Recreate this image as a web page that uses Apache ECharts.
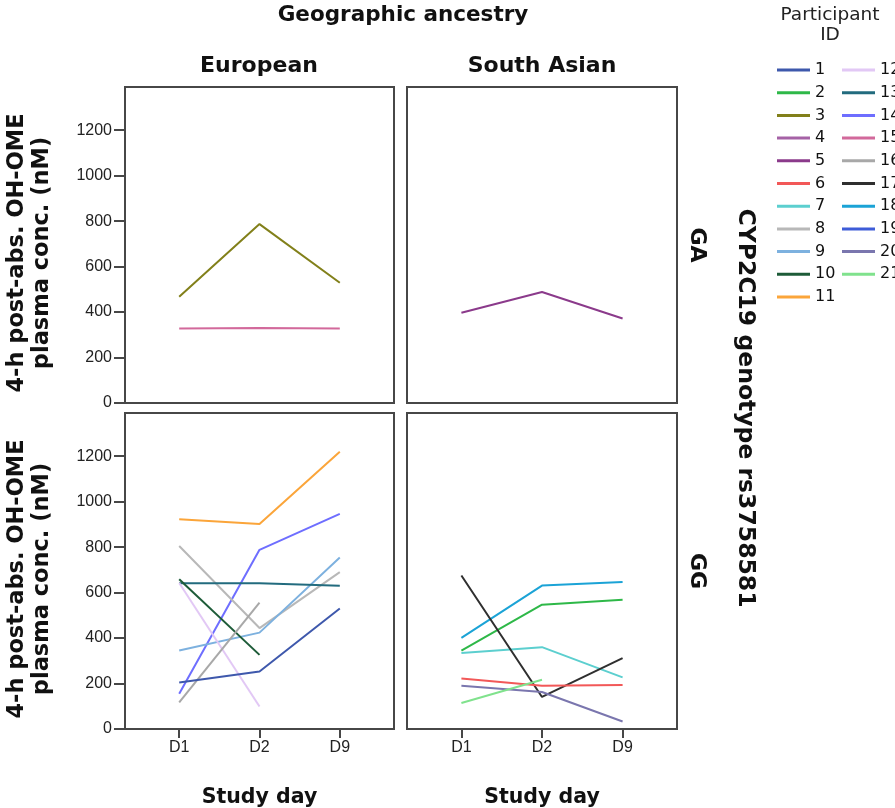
<!DOCTYPE html>
<html>
<head>
<meta charset="utf-8">
<script src="https://cdn.jsdelivr.net/npm/echarts@6/dist/echarts.min.js"></script>
<style>html,body{margin:0;padding:0;background:#fff}#c{width:895px;height:808px}</style>
</head>
<body>
<div id="c"></div>
<script>
// ---- data ----
const days = ['D1', 'D2', 'D9'];
const participantIds = ['1','2','3','4','5','6','7','8','9','10','11','12','13','14','15','16','17','18','19','20','21'];
const participantColors = ['#3E58AC','#2EB848','#82801A','#A562A6','#8B3A8B','#F25858','#5CCFCF','#B8B8B8','#7DB1DF','#1D5B38','#FBA53A','#E2C8F5','#226B7E','#6E6EFF','#D2699B','#A8A8A8','#2F2F2F','#1BA3D6','#3E5CD8','#7A76AE','#80E28D'];
const yTicks = [0, 200, 400, 600, 800, 1000, 1200];
const ancestries = ['European', 'South Asian'];
const genotypes = ['GA', 'GG'];

// European / GA
const euGA_ids = ['3', '15'];
const euGA_vals = [[467, 787, 529], [328, 330, 328]];
// South Asian / GA
const saGA_ids = ['5'];
const saGA_vals = [[397, 488, 372]];
// European / GG
const euGG_ids = ['11', '14', '8', '9', '13', '10', '12', '16', '1'];
const euGG_vals = [
  [923, 902, 1220],
  [155, 788, 946],
  [805, 444, 690],
  [345, 424, 754],
  [641, 641, 630],
  [659, 326, null],
  [642, 99, null],
  [117, 556, null],
  [205, 253, 530]
];
// South Asian / GG
const saGG_ids = ['18', '2', '7', '17', '6', '20', '21'];
const saGG_vals = [
  [401, 631, 647],
  [345, 547, 569],
  [334, 360, 227],
  [675, 141, 312],
  [222, 190, 193],
  [190, 163, 33],
  [114, 217, null]
];

// ---- chart ----
const FONT = '"Liberation Sans", Arial, sans-serif';
const TFONT = '"DejaVu Sans", Verdana, sans-serif';
const panels = [
  {ids: euGA_ids, vals: euGA_vals, grid: {left: 125, top: 87, width: 269, height: 316}, col: 0, row: 0},
  {ids: saGA_ids, vals: saGA_vals, grid: {left: 407, top: 87, width: 270, height: 316}, col: 1, row: 0},
  {ids: euGG_ids, vals: euGG_vals, grid: {left: 125, top: 413, width: 269, height: 316}, col: 0, row: 1},
  {ids: saGG_ids, vals: saGG_vals, grid: {left: 407, top: 413, width: 270, height: 316}, col: 1, row: 1}
];

const grids = [], xAxes = [], yAxes = [], series = [];
panels.forEach((p, i) => {
  grids.push(Object.assign({show: true, borderColor: '#474747', borderWidth: 2, backgroundColor: '#fff',
    containLabel: false, outerBoundsMode: 'none'}, p.grid));
  const bottom = p.row === 1;
  xAxes.push({
    type: 'value', gridIndex: i, min: 0.325, max: 3.675,
    splitLine: {show: false},
    axisLine: {show: false},
    axisTick: {show: bottom, length: 9, lineStyle: {color: '#474747', width: 2}, customValues: [1, 2, 3]},
    axisLabel: {show: bottom, customValues: [1, 2, 3], formatter: v => days[Math.round(v) - 1] || '', color: '#222', fontSize: 16, fontFamily: FONT, margin: 11},
    name: bottom ? 'Study day' : '', nameLocation: 'middle', nameGap: 58,
    nameTextStyle: {fontSize: 20.5, fontWeight: 'bold', color: '#111', fontFamily: TFONT}
  });
  const left = p.col === 0;
  yAxes.push({
    type: 'value', gridIndex: i, min: 0, max: 1390, interval: 200,
    splitLine: {show: false},
    axisLine: {show: false},
    axisTick: {show: left, length: 11, lineStyle: {color: '#474747', width: 2}, customValues: yTicks},
    axisLabel: {show: left, customValues: yTicks, formatter: v => String(v), color: '#222', fontSize: 16, fontFamily: FONT, margin: 13},
    name: left ? '4-h post-abs. OH-OME\nplasma conc. (nM)' : '', nameLocation: 'middle', nameGap: 70, nameRotate: 90,
    nameTextStyle: {fontSize: 22.5, fontWeight: 'bold', color: '#111', fontFamily: TFONT, lineHeight: 25, padding: [0, 16, 0, 0]}
  });
  p.ids.forEach((id, k) => {
    const ci = participantIds.indexOf(id);
    series.push({
      name: id, type: 'line', xAxisIndex: i, yAxisIndex: i,
      symbol: 'none', silent: true,
      lineStyle: {width: 2, color: participantColors[ci]},
      itemStyle: {color: participantColors[ci]},
      data: p.vals[k].map((v, j) => [j + 1, v]).filter(d => d[1] !== null)
    });
  });
});
// legend-only entries for participants without drawn lines
participantIds.forEach((id, ci) => {
  if (!series.some(s => s.name === id)) {
    series.push({name: id, type: 'line', xAxisIndex: 0, yAxisIndex: 0, symbol: 'none',
      lineStyle: {width: 2, color: participantColors[ci]}, itemStyle: {color: participantColors[ci]}, data: []});
  }
});

const legendBase = {
  orient: 'vertical', icon: 'rect', itemWidth: 33, itemHeight: 3, itemGap: 6.7, padding: 0,
  selectedMode: false,
  textStyle: {fontSize: 16, color: '#111', fontFamily: TFONT, lineHeight: 16, padding: [0, 0, 0, 0]}
};

const option = {
  backgroundColor: '#fff',
  animation: false,
  grid: grids, xAxis: xAxes, yAxis: yAxes, series: series,
  legend: [
    Object.assign({}, legendBase, {left: 777, top: 62, data: participantIds.slice(0, 11)}),
    Object.assign({}, legendBase, {left: 842, top: 62, data: participantIds.slice(11)})
  ],
  graphic: [
    {type: 'text', x: 403, y: 15, style: {text: 'Geographic ancestry', font: 'bold 21.5px ' + TFONT, fill: '#111', textAlign: 'center', textVerticalAlign: 'middle'}},
    {type: 'text', x: 259, y: 66, style: {text: ancestries[0], font: 'bold 22px ' + TFONT, fill: '#111', textAlign: 'center', textVerticalAlign: 'middle'}},
    {type: 'text', x: 542, y: 66, style: {text: ancestries[1], font: 'bold 22px ' + TFONT, fill: '#111', textAlign: 'center', textVerticalAlign: 'middle'}},
    {type: 'text', x: 697, y: 245, rotation: -Math.PI / 2, style: {text: genotypes[0], font: 'bold 22px ' + TFONT, fill: '#111', textAlign: 'center', textVerticalAlign: 'middle'}},
    {type: 'text', x: 697, y: 571, rotation: -Math.PI / 2, style: {text: genotypes[1], font: 'bold 22px ' + TFONT, fill: '#111', textAlign: 'center', textVerticalAlign: 'middle'}},
    {type: 'text', x: 745, y: 408, rotation: -Math.PI / 2, style: {text: 'CYP2C19 genotype rs3758581', font: 'bold 23.5px ' + TFONT, fill: '#111', textAlign: 'center', textVerticalAlign: 'middle'}},
    {type: 'text', x: 830, y: 25, style: {text: 'Participant\nID', font: '18.5px ' + TFONT, lineHeight: 20, fill: '#222', textAlign: 'center', textVerticalAlign: 'middle'}}
  ]
};

const chart = echarts.init(document.getElementById('c'), null, {renderer: 'canvas'});
chart.setOption(option);
</script>
</body>
</html>
